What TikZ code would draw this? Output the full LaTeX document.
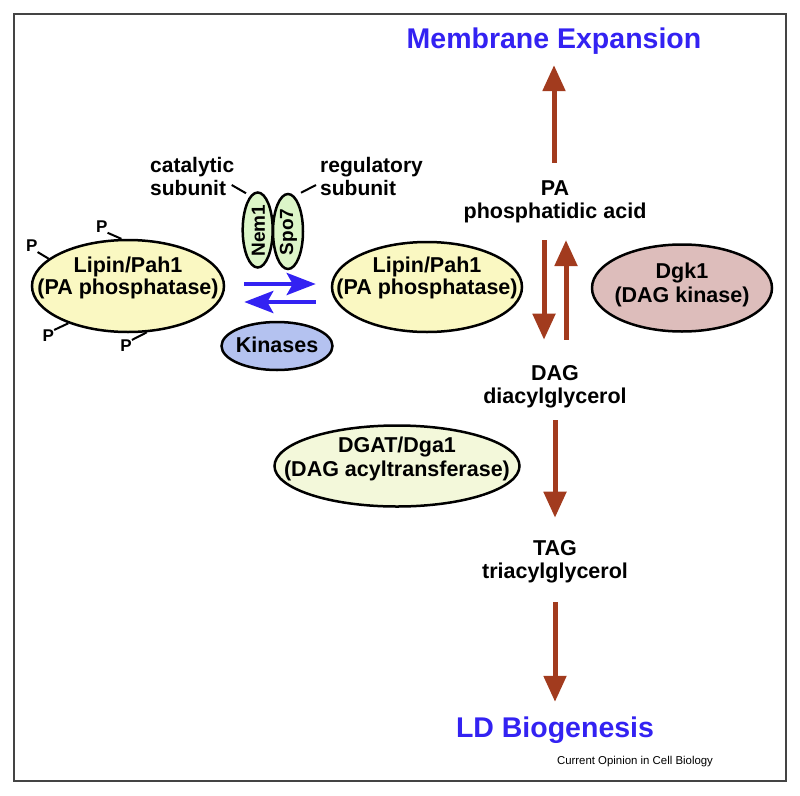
\documentclass[tikz,border=0pt]{standalone}
\usepackage{fontspec}
\setmainfont{Liberation Sans}
\usetikzlibrary{shapes.geometric,arrows.meta,calc}
\definecolor{brn}{HTML}{A23B1E}
\definecolor{blu}{HTML}{3322F2}
\definecolor{yel}{HTML}{FAF8C2}
\definecolor{grn}{HTML}{DCF5C8}
\definecolor{kin}{HTML}{B4C2F0}
\definecolor{pnk}{HTML}{DDBDBB}
\definecolor{lgr}{HTML}{F3F8DA}
\definecolor{frm}{HTML}{444444}
\begin{document}
\begin{tikzpicture}[x=1pt,y=-1pt,
  bt/.style={font=\bfseries\fontsize{21.5}{23}\selectfont, inner sep=0pt, align=center},
  et/.style={font=\bfseries\fontsize{21.5}{22}\selectfont, inner sep=0pt, align=center},
  et2/.style={font=\bfseries\fontsize{21.5}{24.5}\selectfont, inner sep=0pt, align=center},
  lt/.style={font=\bfseries\fontsize{21}{23}\selectfont, inner sep=0pt, align=left, anchor=west},
  ttl/.style={font=\bfseries\fontsize{28.5}{32}\selectfont, inner sep=0pt, text=blu},
  pt/.style={font=\bfseries\fontsize{17}{19}\selectfont, inner sep=0pt},
  rt/.style={font=\bfseries\fontsize{19}{21}\selectfont, inner sep=0pt, rotate=90},
  ell/.style={ellipse, draw=black, line width=2.5pt, inner sep=0pt},
  brarrow/.style={draw=brn, line width=5pt, -{Triangle[length=26pt,width=22pt]}},
  blarrow/.style={draw=blu, line width=4.5pt, -{Stealth[length=29pt,width=22pt,inset=6pt]}},
  tick/.style={draw=black, line width=2pt}
]
\useasboundingbox (0,0) rectangle (800,795);
\draw[frm, line width=1.5pt] (14,14) rectangle (786,781);

% titles
\node[ttl] (mem) at (554,40.8) {Membrane Expansion};
\node[ttl] (ld) at (555,729.8) {LD Biogenesis};

% metabolites
\node[bt] (pa) at (555,201.7) {PA\\phosphatidic acid};
\node[bt] (dag) at (555,386.7) {DAG\\diacylglycerol};
\node[bt] (tag) at (555,561.7) {TAG\\triacylglycerol};

% enzymes
\node[ell, fill=yel, minimum width=192pt, minimum height=92pt] (lipL) at (128,286) {};
\node[et] (lipLt) at (128,278) {Lipin/Pah1\\(PA phosphatase)};
\node[ell, fill=yel, minimum width=190pt, minimum height=90pt] (lipR) at (427,287) {};
\node[et] (lipRt) at (427,278) {Lipin/Pah1\\(PA phosphatase)};
\node[ell, fill=pnk, minimum width=180pt, minimum height=87pt] (dgk) at (682,288) {};
\node[et2] (dgkt) at (682,285) {Dgk1\\(DAG kinase)};
\node[ell, fill=lgr, minimum width=245pt, minimum height=81pt] (dgat) at (397,466) {};
\node[et2] (dgatt) at (397,459) {DGAT/Dga1\\(DAG acyltransferase)};
\node[ell, fill=kin, minimum width=111pt, minimum height=48pt] (kin) at (277,346) {};
\node[bt] (kint) at (277,345) {Kinases};
\node[ell, fill=grn, minimum width=30pt, minimum height=75pt] (nem) at (257.7,230) {};
\node[rt] (nemt) at (258.5,230.5) {Nem1};
\node[ell, fill=grn, minimum width=30pt, minimum height=75pt] (spo) at (288,231.5) {};
\node[rt] (spot) at (288.5,232) {Spo7};

% subunit labels
\node[lt] (cat) at (150,176.4) {catalytic\\subunit};
\node[lt] (reg) at (320,176.4) {regulatory\\subunit};
\draw[tick] ($(cat.west)+(81.7,8.6)$) -- ($(nem.north)+(-11.7,2)$);
\draw[tick] ($(reg.west)+(-4,8.6)$) -- ($(spo.north)+(13,0)$);

% phosphates
\node[pt] (p1) at (101.7,226.7) {P};
\node[pt] (p2) at (31.7,246) {P};
\node[pt] (p3) at (48.3,336) {P};
\node[pt] (p4) at (126,346) {P};
\draw[tick] (p1.south east) -- (lipL.98);
\draw[tick] (p2.south east) -- (lipL.161);
\draw[tick] (p3.north east) -- (lipL.212);
\draw[tick] (p4.north east) -- (lipL.292);

% blue arrows
\draw[blarrow] ($(lipL.east)+(19,-2)$) -- ($(lipR.west)+(-15,-3)$);
\draw[blarrow] ($(lipR.west)+(-15,15)$) -- ($(lipL.east)+(19,16)$);

% brown arrows
\draw[brarrow] ($(pa.north)+(-1,-17.5)$) -- ($(mem.south)+(0,10.8)$);
\draw[brarrow] ($(pa.south)+(-11,17)$) -- ($(dag.north)+(-11,-25.5)$);
\draw[brarrow] ($(dag.north)+(11,-25.5)$) -- ($(pa.south)+(11,17)$);
\draw[brarrow] ($(dag.south)+(0,12)$) -- ($(tag.north)+(0,-22.5)$);
\draw[brarrow] ($(tag.south)+(0,19)$) -- ($(ld.north)+(0,-14.4)$);

% credit
\node[font=\fontsize{11.4}{13}\selectfont, inner sep=0pt] (credit) at (635,762) {Current Opinion in Cell Biology};
\end{tikzpicture}
\end{document}
